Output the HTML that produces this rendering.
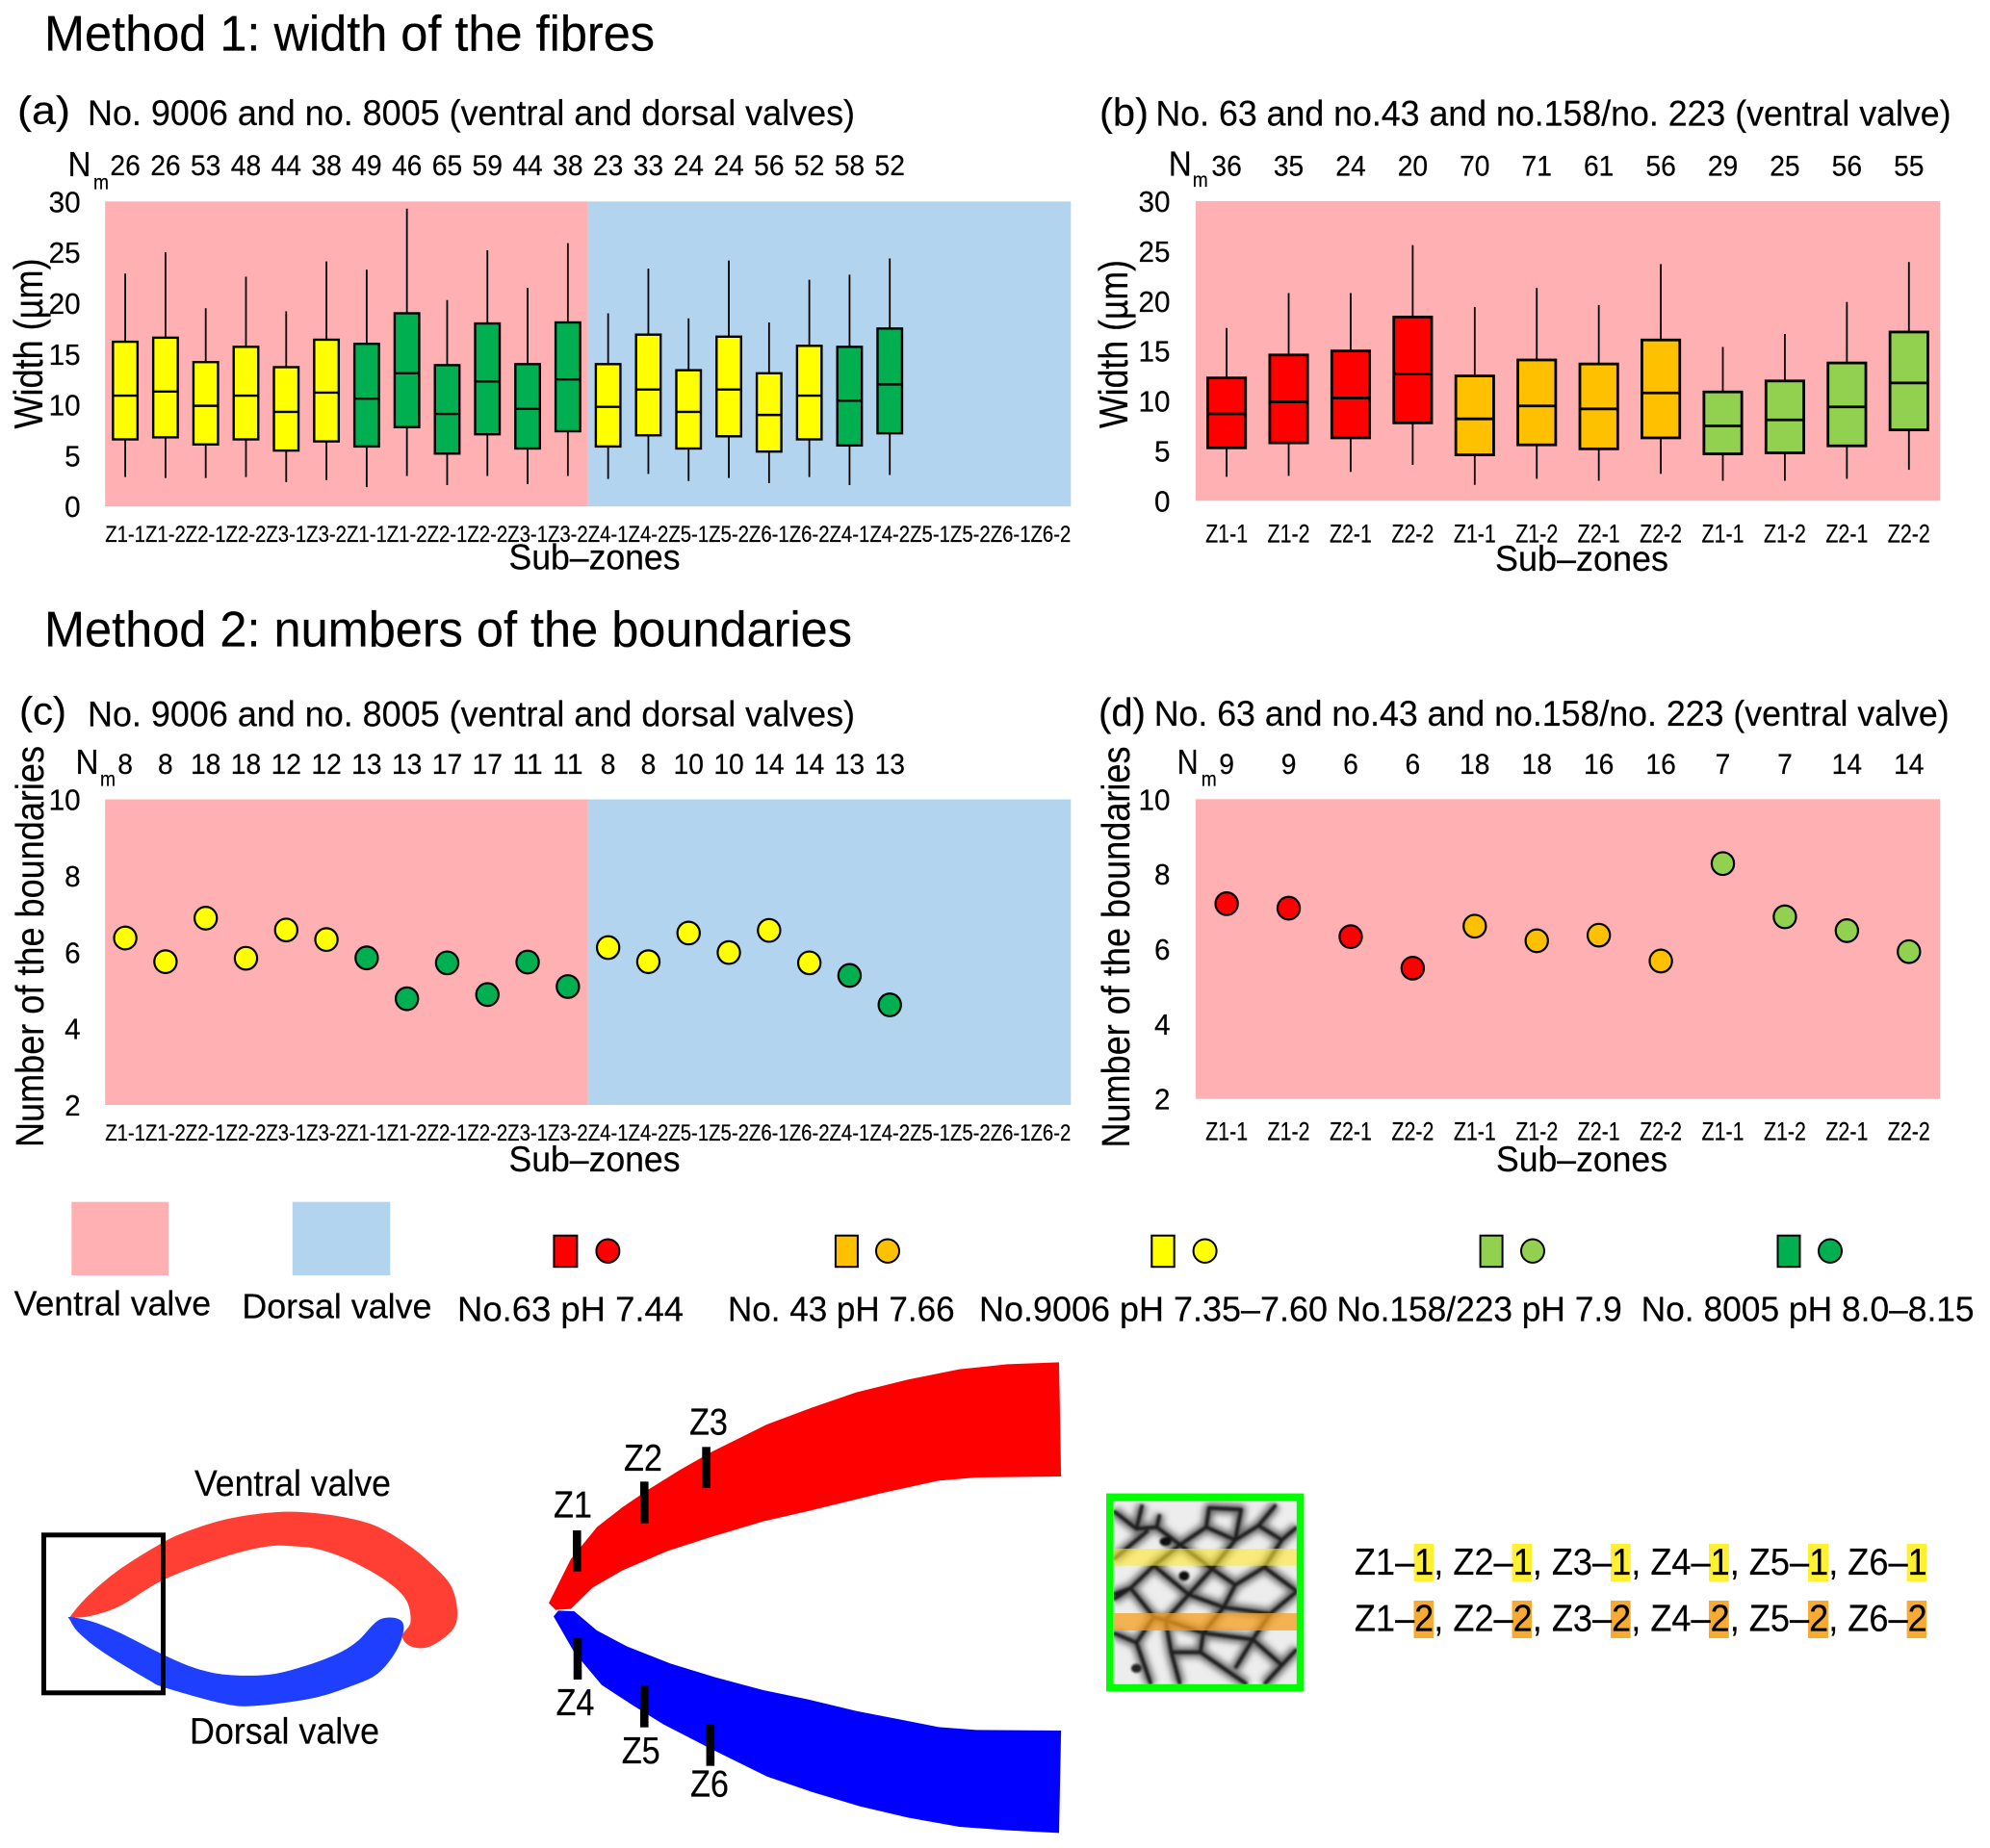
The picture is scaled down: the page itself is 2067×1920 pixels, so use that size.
<!DOCTYPE html>
<html lang="en">
<head>
<meta charset="utf-8">
<title>Method 1 and Method 2 sub-zone charts</title>
<style>
html,body{margin:0;padding:0;background:#fff;}
svg{display:block;}
text{font-family:"Liberation Sans",Arial,sans-serif;fill:#000;stroke:#000;stroke-width:0.2;}
</style>
</head>
<body>
<svg id="figure" xmlns="http://www.w3.org/2000/svg" width="2067" height="1920" viewBox="0 0 2067 1920">
<rect x="0" y="0" width="2067" height="1920" fill="#fff"/>

<text x="46" y="52.5" font-size="52" textLength="634" lengthAdjust="spacingAndGlyphs">Method 1: width of the fibres</text>
<text x="46" y="671.5" font-size="52" textLength="839" lengthAdjust="spacingAndGlyphs">Method 2: numbers of the boundaries</text>

<text x="18" y="128.5" font-size="41" textLength="55" lengthAdjust="spacingAndGlyphs">(a)</text>
<text x="91" y="130" font-size="37" textLength="797" lengthAdjust="spacingAndGlyphs">No. 9006 and no. 8005 (ventral and dorsal valves)</text>
<text x="70.5" y="183" font-size="36" textLength="24" lengthAdjust="spacingAndGlyphs">N</text>
<text x="97" y="196.5" font-size="21" textLength="16" lengthAdjust="spacingAndGlyphs">m</text>
<text transform="translate(44,357) rotate(-90)" text-anchor="middle" font-size="42" textLength="177" lengthAdjust="spacingAndGlyphs">Width (µm)</text>
<text x="528.5" y="591.5" font-size="37" textLength="178" lengthAdjust="spacingAndGlyphs">Sub–zones</text>

<text x="1142" y="130.5" font-size="41" textLength="51" lengthAdjust="spacingAndGlyphs">(b)</text>
<text x="1200.5" y="130.5" font-size="37" textLength="826" lengthAdjust="spacingAndGlyphs">No. 63 and no.43 and no.158/no. 223 (ventral valve)</text>
<text x="1213.7" y="182.7" font-size="36" textLength="24" lengthAdjust="spacingAndGlyphs">N</text>
<text x="1238.8" y="194" font-size="21" textLength="16" lengthAdjust="spacingAndGlyphs">m</text>
<text transform="translate(1171,357.5) rotate(-90)" text-anchor="middle" font-size="42" textLength="175" lengthAdjust="spacingAndGlyphs">Width (µm)</text>
<text x="1553" y="593" font-size="37" textLength="180" lengthAdjust="spacingAndGlyphs">Sub–zones</text>

<text x="20" y="752.5" font-size="41" textLength="49" lengthAdjust="spacingAndGlyphs">(c)</text>
<text x="91" y="754.5" font-size="37" textLength="797" lengthAdjust="spacingAndGlyphs">No. 9006 and no. 8005 (ventral and dorsal valves)</text>
<text x="78.5" y="804" font-size="36" textLength="24" lengthAdjust="spacingAndGlyphs">N</text>
<text x="104" y="816.5" font-size="21" textLength="16" lengthAdjust="spacingAndGlyphs">m</text>
<text transform="translate(45,983.5) rotate(-90)" text-anchor="middle" font-size="41" textLength="417" lengthAdjust="spacingAndGlyphs">Number of the boundaries</text>
<text x="528.5" y="1217" font-size="37" textLength="178" lengthAdjust="spacingAndGlyphs">Sub–zones</text>

<text x="1141" y="754" font-size="41" textLength="49" lengthAdjust="spacingAndGlyphs">(d)</text>
<text x="1198.7" y="754" font-size="37" textLength="826" lengthAdjust="spacingAndGlyphs">No. 63 and no.43 and no.158/no. 223 (ventral valve)</text>
<text x="1222.6" y="804" font-size="36" textLength="22" lengthAdjust="spacingAndGlyphs">N</text>
<text x="1247.7" y="816.5" font-size="21" textLength="16" lengthAdjust="spacingAndGlyphs">m</text>
<text transform="translate(1173,984) rotate(-90)" text-anchor="middle" font-size="41" textLength="417" lengthAdjust="spacingAndGlyphs">Number of the boundaries</text>
<text x="1554" y="1217" font-size="37" textLength="178" lengthAdjust="spacingAndGlyphs">Sub–zones</text>

<g id="panel-layers"></g>

<g>
  <rect x="74.3" y="1248.7" width="100.7" height="76.3" fill="#ffb0b2"/>
  <rect x="303.8" y="1248.7" width="101.5" height="76.3" fill="#b2d4ee"/>
  <text x="14.6" y="1366.7" font-size="36" textLength="204.5" lengthAdjust="spacingAndGlyphs">Ventral valve</text>
  <text x="251.4" y="1369.3" font-size="36" textLength="197" lengthAdjust="spacingAndGlyphs">Dorsal valve</text>

  <rect x="575.4" y="1283.7" width="24" height="32.5" fill="#ff0000" stroke="#000" stroke-width="2"/>
  <ellipse cx="631.4" cy="1299.7" rx="12" ry="12.2" fill="#ff0000" stroke="#000" stroke-width="2"/>
  <text x="475" y="1372.7" font-size="36" textLength="235" lengthAdjust="spacingAndGlyphs">No.63 pH 7.44</text>

  <rect x="867.9" y="1283.7" width="23" height="32.5" fill="#ffc000" stroke="#000" stroke-width="2"/>
  <ellipse cx="922" cy="1299.7" rx="12" ry="12.2" fill="#ffc000" stroke="#000" stroke-width="2"/>
  <text x="756" y="1372.7" font-size="36" textLength="235.6" lengthAdjust="spacingAndGlyphs">No. 43 pH 7.66</text>

  <rect x="1196.3" y="1283.7" width="23.4" height="32.5" fill="#ffff00" stroke="#000" stroke-width="2"/>
  <ellipse cx="1251.6" cy="1299.7" rx="12" ry="12.2" fill="#ffff00" stroke="#000" stroke-width="2"/>
  <text x="1017" y="1372.7" font-size="36" textLength="362" lengthAdjust="spacingAndGlyphs">No.9006 pH 7.35–7.60</text>

  <rect x="1537.6" y="1283.7" width="23" height="32.5" fill="#92d050" stroke="#000" stroke-width="2"/>
  <ellipse cx="1592" cy="1299.7" rx="12" ry="12.2" fill="#92d050" stroke="#000" stroke-width="2"/>
  <text x="1388.5" y="1372.7" font-size="36" textLength="296.3" lengthAdjust="spacingAndGlyphs">No.158/223 pH 7.9</text>

  <rect x="1846.5" y="1283.7" width="23" height="32.5" fill="#00b050" stroke="#000" stroke-width="2"/>
  <ellipse cx="1901" cy="1299.7" rx="12" ry="12.2" fill="#00b050" stroke="#000" stroke-width="2"/>
  <text x="1704.6" y="1372.7" font-size="36" textLength="346" lengthAdjust="spacingAndGlyphs">No. 8005 pH 8.0–8.15</text>
</g>

<g>
  <g transform="translate(0,1400) scale(0.71429,0.33333)">
    <path id="shell-ventral" fill="#ff3f33" d="M102,840 L130,770 L175,690 L235,610 L270,575 L320,540 L370,520 L425,512 L490,525 L545,555 L590,610 L625,670 L655,740 L665,820 L658,880 L625,932 L598,932 L585,900 L597,855 L590,785 L560,725 L510,665 L465,630 L430,620 L390,620 L330,650 L240,722 L175,805 L135,835 L110,842 Z"/>
    <path id="shell-dorsal" fill="#1f3fff" d="M102,840 L135,855 L175,890 L240,960 L285,1000 L330,1020 L390,1020 L440,995 L490,955 L520,915 L553,847 L585,855 L580,930 L550,1015 L505,1060 L450,1095 L370,1117 L325,1110 L240,1060 L215,1035 L150,950 L115,890 L102,850 Z"/>
  </g>
  <rect x="45.5" y="1594.8" width="124" height="164" fill="none" stroke="#000" stroke-width="5"/>
  <text x="202" y="1554" font-size="38" textLength="204" lengthAdjust="spacingAndGlyphs">Ventral valve</text>
  <text x="197" y="1811.7" font-size="38" textLength="197" lengthAdjust="spacingAndGlyphs">Dorsal valve</text>
</g>

<g>
  <g transform="translate(0,1400) scale(0.71429,0.33333)">
    <polygon fill="#ff0000" points="798,797 830,660 868,560 905,498 945,440 990,380 1035,325 1115,240 1180,188 1245,140 1320,100 1395,68 1465,52 1540,46 1543,402 1420,405 1365,415 1280,455 1175,510 1110,542 1035,590 970,635 905,695 862,748 830,815 808,818"/>
    <polygon fill="#0000ff" points="805,838 812,820 835,822 868,882 912,932 975,985 1040,1028 1110,1068 1175,1097 1245,1133 1310,1160 1365,1183 1420,1192 1543,1194 1540,1513 1465,1505 1395,1494 1320,1465 1250,1430 1180,1385 1115,1337 1035,1252 965,1175 920,1115 875,1052 835,950"/>
    <rect x="833" y="570" width="12" height="128" fill="#000"/>
    <rect x="931" y="418" width="12" height="130" fill="#000"/>
    <rect x="1021" y="310" width="12" height="128" fill="#000"/>
    <rect x="834" y="905" width="12" height="130" fill="#000"/>
    <rect x="931" y="1054" width="12" height="130" fill="#000"/>
    <rect x="1027" y="1174" width="12" height="130" fill="#000"/>
  </g>
  <text x="595" y="1576.7" text-anchor="middle" font-size="39" textLength="40" lengthAdjust="spacingAndGlyphs">Z1</text>
  <text x="668" y="1528" text-anchor="middle" font-size="39" textLength="40" lengthAdjust="spacingAndGlyphs">Z2</text>
  <text x="736" y="1490.7" text-anchor="middle" font-size="39" textLength="40" lengthAdjust="spacingAndGlyphs">Z3</text>
  <text x="597.5" y="1782" text-anchor="middle" font-size="39" textLength="40" lengthAdjust="spacingAndGlyphs">Z4</text>
  <text x="665.7" y="1832" text-anchor="middle" font-size="39" textLength="40" lengthAdjust="spacingAndGlyphs">Z5</text>
  <text x="737" y="1866.7" text-anchor="middle" font-size="39" textLength="40" lengthAdjust="spacingAndGlyphs">Z6</text>
</g>

<g>
  <defs>
    <clipPath id="inset-clip"><rect x="1156.8" y="1559" width="190.2" height="191"/></clipPath>
    <filter id="inset-blur" filterUnits="userSpaceOnUse" x="1140" y="1540" width="230" height="230"><feGaussianBlur stdDeviation="1.1"/></filter>
    <filter id="inset-blur-soft" filterUnits="userSpaceOnUse" x="1140" y="1540" width="230" height="230"><feGaussianBlur stdDeviation="3.5"/></filter>
  </defs>
  <g clip-path="url(#inset-clip)">
    <rect x="1156.8" y="1559" width="190.2" height="191" fill="#ededed"/>
    <g filter="url(#inset-blur-soft)">
      <g transform="translate(1120,1530) scale(0.604,0.3333)" fill="none" stroke="#6c6c6c" stroke-linejoin="round">
        <path vector-effect="non-scaling-stroke" stroke-width="11" d="M61,120 L100,175 L135,170 L175,225 L220,170 L270,210 L310,165 L350,210 L376,170 M100,175 L110,100 M220,170 L225,110 L280,115 L270,210 M135,170 L140,130 M310,165 L340,100 M61,270 L120,180 M175,225 L130,290 L90,360 L60,380 M175,225 L230,300 L190,380 L130,290 M230,300 L270,210 M230,300 L270,350 L320,295 L350,210 M320,295 L376,370 M270,350 L250,420 L190,380 M90,360 L130,450 M61,395 L90,360 M190,380 L150,460 L130,450 M250,420 L215,500 L150,460 M250,420 L330,440 L376,370 M330,440 L300,520 L215,500 M130,450 L100,530 L61,500 M150,460 L160,560 L175,660 M100,530 L125,660 M215,500 L210,560 L290,660 M160,560 L210,560 M300,520 L350,600 L376,550 M300,520 L270,610 M350,600 L320,660"/>
      </g>
    </g>
    <g filter="url(#inset-blur)">
      <g transform="translate(1120,1530) scale(0.604,0.3333)" fill="none" stroke="#1c1c1c" stroke-linejoin="round">
        <path vector-effect="non-scaling-stroke" stroke-width="3.6" d="M61,120 L100,175 L135,170 L175,225 L220,170 L270,210 L310,165 L350,210 L376,170 M100,175 L110,100 M220,170 L225,110 L280,115 L270,210 M135,170 L140,130 M310,165 L340,100 M61,270 L120,180 M175,225 L130,290 L90,360 L60,380 M175,225 L230,300 L190,380 L130,290 M230,300 L270,210 M230,300 L270,350 L320,295 L350,210 M320,295 L376,370 M270,350 L250,420 L190,380 M90,360 L130,450 M61,395 L90,360 M190,380 L150,460 L130,450 M250,420 L215,500 L150,460 M250,420 L330,440 L376,370 M330,440 L300,520 L215,500 M130,450 L100,530 L61,500 M150,460 L160,560 L175,660 M100,530 L125,660 M215,500 L210,560 L290,660 M160,560 L210,560 M300,520 L350,600 L376,550 M300,520 L270,610 M350,600 L320,660"/>
        <ellipse cx="150" cy="215" rx="10" ry="14" fill="#111" stroke="none"/>
        <ellipse cx="182" cy="322" rx="9" ry="15" fill="#111" stroke="none"/>
        <ellipse cx="100" cy="610" rx="9" ry="14" fill="#222" stroke="none"/>
      </g>
    </g>
  </g>
  <rect x="1156.8" y="1609" width="190.2" height="17.7" fill="#ffe92e" fill-opacity="0.6"/>
  <rect x="1156.8" y="1676" width="190.2" height="18" fill="#f59f1e" fill-opacity="0.75"/>
  <rect x="1152.8" y="1555.4" width="197.8" height="198.2" fill="none" stroke="#00ff00" stroke-width="7.6"/>
</g>

<g>
  <rect x="1468.5" y="1604" width="20.5" height="39" fill="#fff033"/>
  <rect x="1570.5" y="1604" width="20.5" height="39" fill="#fff033"/>
  <rect x="1673" y="1604" width="20.7" height="39" fill="#fff033"/>
  <rect x="1775" y="1604" width="20.8" height="39" fill="#fff033"/>
  <rect x="1878" y="1604" width="21" height="39" fill="#fff033"/>
  <rect x="1980.6" y="1604" width="20.4" height="39" fill="#fff033"/>
  <rect x="1468.5" y="1663" width="20.5" height="39" fill="#f7ab33"/>
  <rect x="1570.5" y="1663" width="20.5" height="39" fill="#f7ab33"/>
  <rect x="1673" y="1663" width="20.7" height="39" fill="#f7ab33"/>
  <rect x="1775" y="1663" width="20.8" height="39" fill="#f7ab33"/>
  <rect x="1878" y="1663" width="21" height="39" fill="#f7ab33"/>
  <rect x="1980.6" y="1663" width="20.4" height="39" fill="#f7ab33"/>
  <text x="1406.9" y="1636" font-size="39" textLength="594.8" lengthAdjust="spacingAndGlyphs">Z1–1, Z2–1, Z3–1, Z4–1, Z5–1, Z6–1</text>
  <text x="1406.9" y="1694.3" font-size="39" textLength="594.8" lengthAdjust="spacingAndGlyphs">Z1–2, Z2–2, Z3–2, Z4–2, Z5–2, Z6–2</text>
</g>
</svg>

<script>
// ---- category labels ----
const wideCategories = ['Z1-1','Z1-2','Z2-1','Z2-2','Z3-1','Z3-2','Z1-1','Z1-2','Z2-1','Z2-2','Z3-1','Z3-2','Z4-1','Z4-2','Z5-1','Z5-2','Z6-1','Z6-2','Z4-1','Z4-2','Z5-1','Z5-2','Z6-1','Z6-2'];
const narrowCategories = ['Z1-1','Z1-2','Z2-1','Z2-2','Z1-1','Z1-2','Z2-1','Z2-2','Z1-1','Z1-2','Z2-1','Z2-2'];

// ---- specimen of each plotted category ----
const wideSpecimens = ['no9006','no9006','no9006','no9006','no9006','no9006','no8005','no8005','no8005','no8005','no8005','no8005','no9006','no9006','no9006','no9006','no9006','no9006','no8005','no8005'];
const narrowSpecimens = ['no63','no63','no63','no63','no43','no43','no43','no43','no158','no158','no158','no158'];

// ---- tick labels ----
const widthTicks = [0,5,10,15,20,25,30];
const boundaryTicks = [2,4,6,8,10];

// ---- panel (a) ----
const aCounts = [26,26,53,48,44,38,49,46,65,59,44,38,23,33,24,24,56,52,58,52];
const aHigh = [22.9,25.0,19.5,22.6,19.2,24.1,23.3,29.3,20.3,25.2,21.5,25.9,19.0,23.4,18.5,24.2,18.1,22.3,22.8,24.4];
const aQ3 = [16.2,16.6,14.2,15.7,13.7,16.4,16.0,19.0,13.9,18.0,14.0,18.1,14.0,16.9,13.4,16.7,13.1,15.8,15.7,17.5];
const aMedian = [10.9,11.3,9.9,10.9,9.3,11.2,10.6,13.1,9.1,12.3,9.6,12.5,9.8,11.5,9.3,11.5,9.0,10.9,10.4,12.0];
const aQ1 = [6.6,6.8,6.1,6.6,5.5,6.4,5.9,7.8,5.2,7.1,5.7,7.4,5.9,7.0,5.7,6.9,5.4,6.6,6.0,7.2];
const aLow = [2.9,2.8,2.8,2.9,2.4,2.6,1.9,3.0,2.1,3.0,2.2,3.0,2.7,3.2,2.5,2.8,2.3,2.9,2.1,3.1];

// ---- panel (b) ----
const bCounts = [36,35,24,20,70,71,61,56,29,25,56,55];
const bHigh = [17.3,20.8,20.8,25.6,19.4,21.3,19.6,23.7,15.4,16.7,19.9,23.9];
const bQ3 = [12.3,14.6,15.0,18.4,12.5,14.1,13.7,16.1,10.9,12.0,13.8,16.9];
const bMedian = [8.7,9.9,10.3,12.7,8.2,9.5,9.2,10.8,7.5,8.1,9.4,11.8];
const bQ1 = [5.3,5.8,6.3,7.8,4.6,5.6,5.2,6.3,4.7,4.8,5.5,7.1];
const bLow = [2.4,2.5,2.9,3.6,1.6,2.2,2.0,2.7,2.0,2.0,2.2,3.1];

// ---- panel (c) ----
const cCounts = [8,8,18,18,12,12,13,13,17,17,11,11,8,8,10,10,14,14,13,13];
const cValues = [6.37,5.75,6.89,5.84,6.58,6.33,5.85,4.78,5.72,4.89,5.74,5.10,6.12,5.75,6.50,5.99,6.57,5.72,5.39,4.62];

// ---- panel (d) ----
const dCounts = [9,9,6,6,18,18,16,16,7,7,14,14];
const dValues = [7.21,7.09,6.33,5.49,6.61,6.22,6.37,5.68,8.28,6.86,6.49,5.93];

const specimenColor = {no63:'#ff0000',no43:'#ffc000',no9006:'#ffff00',no158:'#92d050',no8005:'#00b050'};
const SVG_NS = 'http://www.w3.org/2000/svg';
const layers = document.getElementById('panel-layers');

function make(tag, parent){
  const el = document.createElementNS(SVG_NS, tag);
  parent.appendChild(el);
  return el;
}
function xBand(p, i){ return p.left + (p.right - p.left) / p.categories.length * i; }
function xCenter(p, i){ return xBand(p, i + 0.5); }
function yScale(p, v){ return p.bottom - (v - p.min) / (p.max - p.min) * (p.bottom - p.top); }

function drawBackground(p, g){
  const split = p.dorsalFrom === null ? p.categories.length : p.dorsalFrom;
  const pink = make('rect', g);
  
  
  pink.setAttribute('x', p.left);
  pink.setAttribute('y', p.top);
  pink.setAttribute('width', xBand(p, split) - p.left);
  pink.setAttribute('height', p.bottom - p.top);
  pink.setAttribute('fill', '#ffb0b2');
  if (p.dorsalFrom !== null) {
    const blue = make('rect', g);
    
    
    blue.setAttribute('x', xBand(p, split));
    blue.setAttribute('y', p.top);
    blue.setAttribute('width', p.right - xBand(p, split));
    blue.setAttribute('height', p.bottom - p.top);
    blue.setAttribute('fill', '#b2d4ee');
  }
}
function drawAxes(p, g){
  p.ticks.forEach(function(t){
    const label = make('text', g);
    
    
    label.setAttribute('x', p.tickEnd);
    label.setAttribute('y', yScale(p, t) + 11);
    label.setAttribute('text-anchor', 'end');
    label.setAttribute('font-size', '31');
    label.setAttribute('textLength', String(t).length * 16.5);
    label.setAttribute('lengthAdjust', 'spacingAndGlyphs');
    label.textContent = t;
  });
  p.categories.forEach(function(c, i){
    const label = make('text', g);
    
    
    label.setAttribute('x', xCenter(p, i));
    label.setAttribute('y', p.categoryBaseline);
    label.setAttribute('text-anchor', 'middle');
    label.setAttribute('font-size', p.categoryFont);
    label.setAttribute('textLength', p.categoryWidth);
    label.setAttribute('lengthAdjust', 'spacingAndGlyphs');
    label.textContent = c;
  });
  p.counts.forEach(function(n, i){
    const label = make('text', g);
    
    
    label.setAttribute('x', xCenter(p, i));
    label.setAttribute('y', p.countBaseline);
    label.setAttribute('text-anchor', 'middle');
    label.setAttribute('font-size', '30');
    label.setAttribute('textLength', String(n).length * 15.7);
    label.setAttribute('lengthAdjust', 'spacingAndGlyphs');
    label.textContent = n;
  });
}
function drawBoxes(p, g, high, q3, median, q1, low){
  const w = (p.right - p.left) / p.categories.length * 0.61;
  high.forEach(function(_, i){
    const cx = xCenter(p, i);
    const whisker = make('line', g);
    
    
    whisker.setAttribute('x1', cx);
    whisker.setAttribute('x2', cx);
    whisker.setAttribute('y1', yScale(p, high[i]));
    whisker.setAttribute('y2', yScale(p, low[i]));
    whisker.setAttribute('stroke', '#000');
    whisker.setAttribute('stroke-width', '1.8');
    const box = make('rect', g);
    
    
    box.setAttribute('x', cx - w / 2);
    box.setAttribute('y', yScale(p, q3[i]));
    box.setAttribute('width', w);
    box.setAttribute('height', yScale(p, q1[i]) - yScale(p, q3[i]));
    box.setAttribute('fill', specimenColor[p.specimens[i]]);
    box.setAttribute('stroke', '#000');
    box.setAttribute('stroke-width', p.boxStroke);
    const med = make('line', g);
    
    
    med.setAttribute('x1', cx - w / 2);
    med.setAttribute('x2', cx + w / 2);
    med.setAttribute('y1', yScale(p, median[i]));
    med.setAttribute('y2', yScale(p, median[i]));
    med.setAttribute('stroke', '#000');
    med.setAttribute('stroke-width', p.boxStroke);
  });
}
function drawDots(p, g, values){
  values.forEach(function(v, i){
    const dot = make('ellipse', g);
    
    
    dot.setAttribute('cx', xCenter(p, i));
    dot.setAttribute('cy', yScale(p, v));
    dot.setAttribute('rx', '11.6');
    dot.setAttribute('ry', '11.8');
    dot.setAttribute('fill', specimenColor[p.specimens[i]]);
    dot.setAttribute('stroke', '#000');
    dot.setAttribute('stroke-width', '2.2');
  });
}
// Round the faceted outline of a closed path with Catmull-Rom segments.
function smoothOutline(id){
  const el = document.getElementById(id);
  const nums = el.getAttribute('d').match(/[\d.]+/g).map(Number);
  const pts = [];
  for (let i = 0; i < nums.length; i += 2) pts.push([nums[i], nums[i + 1]]);
  const n = pts.length;
  let d = 'M' + pts[0][0] + ',' + pts[0][1];
  for (let i = 0; i < n; i++) {
    const a = pts[(i - 1 + n) % n], b = pts[i], c = pts[(i + 1) % n], e = pts[(i + 2) % n];
    const t = 6;
    d += ' C' + (b[0] + (c[0] - a[0]) / t) + ',' + (b[1] + (c[1] - a[1]) / t) + ' ' + (c[0] - (e[0] - b[0]) / t) + ',' + (c[1] - (e[1] - b[1]) / t) + ' ' + c[0] + ',' + c[1];
  }
  el.setAttribute('d', d + ' Z');
}
smoothOutline('shell-ventral');
smoothOutline('shell-dorsal');

const panelA = {left:109.2,right:1112.3,top:209.3,bottom:526.2,min:0,max:30,ticks:widthTicks,tickEnd:83.6,categories:wideCategories,specimens:wideSpecimens,counts:aCounts,dorsalFrom:12,categoryBaseline:563,categoryFont:24,categoryWidth:41.8,countBaseline:182,boxStroke:2.4};
const panelB = {left:1241.9,right:2015,top:209,bottom:520.3,min:0,max:30,ticks:widthTicks,tickEnd:1215.5,categories:narrowCategories,specimens:narrowSpecimens,counts:bCounts,dorsalFrom:null,categoryBaseline:563.3,categoryFont:27,categoryWidth:44,countBaseline:182.5,boxStroke:2.8};
const panelC = {left:109.2,right:1112.3,top:830.5,bottom:1148,min:2,max:10,ticks:boundaryTicks,tickEnd:83.6,categories:wideCategories,specimens:wideSpecimens,counts:cCounts,dorsalFrom:12,categoryBaseline:1185,categoryFont:24,categoryWidth:41.8,countBaseline:804,boxStroke:2.4};
const panelD = {left:1241.9,right:2015,top:830.3,bottom:1141.7,min:2,max:10,ticks:boundaryTicks,tickEnd:1215.5,categories:narrowCategories,specimens:narrowSpecimens,counts:dCounts,dorsalFrom:null,categoryBaseline:1184.3,categoryFont:27,categoryWidth:44,countBaseline:804,boxStroke:2.8};

const gA = make('g', layers);


drawBackground(panelA, gA);
drawAxes(panelA, gA);
drawBoxes(panelA, gA, aHigh, aQ3, aMedian, aQ1, aLow);

const gB = make('g', layers);


drawBackground(panelB, gB);
drawAxes(panelB, gB);
drawBoxes(panelB, gB, bHigh, bQ3, bMedian, bQ1, bLow);

const gC = make('g', layers);


drawBackground(panelC, gC);
drawAxes(panelC, gC);
drawDots(panelC, gC, cValues);

const gD = make('g', layers);


drawBackground(panelD, gD);
drawAxes(panelD, gD);
drawDots(panelD, gD, dValues);
</script>
</body>
</html>
